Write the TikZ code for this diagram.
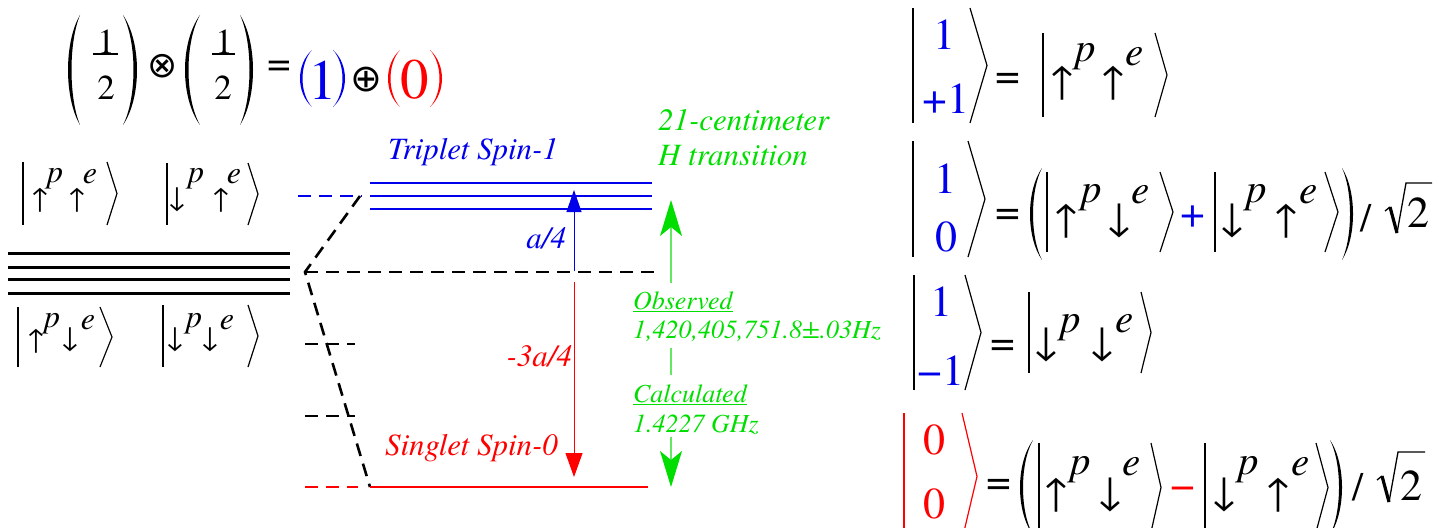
\documentclass[tikz,border=0pt]{standalone}
\usepackage{fontspec}
\IfFontExistsTF{texgyretermes-regular.otf}
 {\setmainfont{texgyretermes}[Extension=.otf,UprightFont=*-regular,ItalicFont=*-italic,BoldFont=*-bold]}
 {\setmainfont{Liberation Serif}}
\newfontfamily\djv{DejaVu Sans}
\usetikzlibrary{arrows.meta}
\definecolor{grn}{RGB}{0,222,0}
\definecolor{grnl}{RGB}{100,232,100}
\definecolor{blu}{RGB}{0,0,235}
\definecolor{rd}{RGB}{255,0,0}
\newcommand\fs[1]{\fontsize{#1}{#1}\selectfont}
% arrow glyph sized to a given total height: {glyph}{fallback width}{height}
\newcommand\arw[3]{\iffontchar\font`#1 \resizebox*{!}{#3}{#1}\else\resizebox*{#2}{#3}{\djv #1}\fi}
\newcommand\sA[1]{\arw{#1}{10pt}{24pt}}
\newcommand\bA[1]{\arw{#1}{15pt}{34pt}}
\tikzset{
  t/.style={inner sep=0pt, outer sep=0pt},
  ketline/.style={line width=1.2pt, line join=miter, miter limit=30},
  blvl/.style={line width=2.6pt, blu},
  klvl/.style={line width=3pt},
  dsh/.style={line width=2.6pt, dash pattern=on 13pt off 8pt},
  sm/.style={t, font=\fs{32}\itshape},
  smA/.style={t, font=\fs{32}},
  bg/.style={t, font=\fs{41}\itshape},
  bgA/.style={t, font=\fs{40}},
  num/.style={t, font=\fs{44}},
  lab/.style={t, font=\fs{31}\itshape, anchor=base west},
  glab/.style={t, font=\fs{26}\itshape, anchor=base west, text=grn},
}
% ket: [colour]{bar x}{top}{bottom}{angle x}{tip x}
\newcommand\ketl[6][black]{%
  \draw[ketline,#1] (#2,#3) -- (#2,#4);
  \draw[ketline,#1] (#5,#3) -- (#6,{(#3+#4)/2}) -- (#5,#4);}
% paren: [colour]{extreme x}{end x}{top}{bottom}{signed thickness}
\newcommand\parn[6][black]{%
  \fill[#1] (#3,#4) .. controls ({(4*#2-#3)/3},{#4+0.25*(#5-#4)}) and ({(4*#2-#3)/3},{#5-0.25*(#5-#4)}) .. (#3,#5)
    .. controls ({(4*(#2+#6)-#3)/3},{#5-0.25*(#5-#4)}) and ({(4*(#2+#6)-#3)/3},{#4+0.25*(#5-#4)}) .. (#3,#4) -- cycle;}
% radical: {x}{top}{bottom}{end x}
\newcommand\radic[4]{%
  \draw[line width=1.3pt, line join=miter] (#1,{(#2+#3)/2+3}) -- ({#1+5},{(#2+#3)/2-1});
  \draw[line width=3.2pt] ({#1+5},{(#2+#3)/2-1}) -- ({#1+12},#3);
  \draw[line width=1.3pt, line join=miter] ({#1+12},#3) -- ({#1+21},#2) -- (#4,#2);}
\begin{document}
\begin{tikzpicture}[x=1pt,y=-1pt]
\useasboundingbox (0,0) rectangle (1439,527);
% ---------------- top formula
\parn{68}{80}{15}{125}{3.5}
\node[t,font=\fs{35}] (f1n) at (106,42) {1};
\draw[line width=1.5pt] (93,54) -- (118,54);
\node[t,font=\fs{35}] (f1d) at (106,88) {2};
\parn{137}{123}{15}{125}{-3.5}
\node[t,font=\fs{36}\djv] (otm) at (163,66) {⊗};
\parn{185}{200}{15}{125}{3.5}
\node[t,font=\fs{35}] (f2n) at (224,42) {1};
\draw[line width=1.5pt] (212,54) -- (235,54);
\node[t,font=\fs{35}] (f2d) at (223,88) {2};
\parn{253}{240}{15}{125}{-3.5}
\node[t,font=\fs{42}] (eq0) at (279,69) {=};
\parn[blu]{300}{312}{50}{107}{2.5}
\node[t,font=\fs{57},text=blu] (one) at (323,80) {1};
\parn[blu]{345}{333}{50}{107}{-2.5}
\node[t,font=\fs{38}\djv] (opl) at (366,80) {⊕};
\parn[rd]{388}{400}{50}{107}{2.5}
\node[t,font=\fs{57},text=rd] (zero) at (415,80) {0};
\parn[rd]{442}{430}{50}{107}{-2.5}
% ---------------- left kets
\ketl{23}{162}{225}{107}{117}
\node[smA] (la1) at (40,200) {\sA{↑}};
\node[sm] (lp1) at (55,179) {p};
\node[smA] (la2) at (77,200) {\sA{↑}};
\node[sm] (le1) at (90,177) {e};
\ketl{167}{163}{225}{248}{258}
\node[smA] (la3) at (177,200) {\sA{↓}};
\node[sm] (lp2) at (196,179) {p};
\node[smA] (la4) at (221,200) {\sA{↑}};
\node[sm] (le2) at (234,177) {e};
\foreach \yy in {253,267,279,293} \draw[klvl] (8,\yy) -- (290,\yy);
\ketl{18}{307}{367}{100}{112}
\node[smA] (la5) at (36,341) {\sA{↑}};
\node[sm] (lp3) at (52,324) {p};
\node[smA] (la6) at (70,340) {\sA{↓}};
\node[sm] (le3) at (88,323) {e};
\ketl{163}{305}{367}{248}{258}
\node[smA] (la7) at (175,340) {\sA{↓}};
\node[sm] (lp4) at (194,324) {p};
\node[smA] (la8) at (210,340) {\sA{↓}};
\node[sm] (le4) at (227,323) {e};
% ---------------- levels
\draw[blvl] (370,183) -- (652,183);
\draw[blvl] (370,196) -- (652,196);
\draw[blvl] (370,209) -- (652,209);
\draw[dsh,blu] (298,196) -- (362,196);
\draw[dsh] (360,196) -- (305,272) -- (370,487);
\draw[dsh] (305,272) -- (658,272);
\draw[dsh] (305,344) -- (355,344);
\draw[dsh] (305,416) -- (355,416);
\draw[dsh,rd] (305,487) -- (358,487);
\draw[line width=2.6pt,rd] (370,487) -- (648,487);
\coordinate (bA0) at (574,271);
\coordinate (bA1) at (574,190);
\draw[blu,line width=1pt,-{Triangle[length=22pt,width=15pt]}] (bA0) -- (bA1);
\coordinate (rA0) at (574,282);
\coordinate (rA1) at (574,477);
\draw[rd,line width=1pt,-{Triangle[length=24pt,width=17pt]}] (rA0) -- (rA1);
\node[lab,text=blu] (trip) at (388,159) {Triplet Spin-1};
\node[lab,text=rd] (sing) at (385,455) {Singlet Spin-0};
\node[t,font=\fs{31}\itshape,text=blu,anchor=base east] (aq) at (566,248) {a/4};
\node[t,font=\fs{31}\itshape,text=rd,anchor=base east] (maq) at (572,366) {-3a/4};
% ---------------- green
\node[lab,text=grn] (g21) at (658,130) {21-centimeter};
\node[lab,text=grn] (gH) at (658,165) {H transition};
\coordinate (gu0) at (671,283);
\coordinate (gu1) at (671,200);
\draw[grnl,line width=1.5pt,-{Stealth[length=36pt,width=22pt,inset=9pt,color=grn]}] (gu0) -- (gu1);
\node[glab] (obs) at (633,309) {\underline{Observed}};
\node[glab] (obsv) at (633,338) {1,420,405,751.8±.03Hz};
\coordinate (gm0) at (671,348);
\coordinate (gm1) at (671,375);
\draw[grnl,line width=1.5pt] (gm0) -- (gm1);
\node[glab] (calc) at (633,402) {\underline{Calculated}};
\node[glab] (calcv) at (633,432) {1.4227 GHz};
\coordinate (gd0) at (671,437);
\coordinate (gd1) at (671,487);
\draw[grnl,line width=1.5pt,-{Stealth[length=36pt,width=22pt,inset=9pt,color=grn]}] (gd0) -- (gd1);
% ---------------- right: row 1
\ketl{913}{8}{123}{970}{987}
\node[num,text=blu] (r1a) at (944,35) {1};
\node[num,text=blu] (r1b) at (946,99) {+1};
\node[num] (r1eq) at (1008,81) {=};
\ketl{1043}{33}{117}{1155}{1167}
\node[bgA] (r1u1) at (1062,83) {\bA{↑}};
\node[bg] (r1p) at (1086,57) {p};
\node[bgA] (r1u2) at (1113,83) {\bA{↑}};
\node[bg] (r1e) at (1135,57) {e};
% row 2
\ketl{913}{141}{257}{968}{985}
\node[num,text=blu] (r2a) at (945,179) {1};
\node[num,text=blu] (r2b) at (946,237) {0};
\node[num] (r2eq) at (1008,217) {=};
\parn{1030}{1042}{168}{260}{3}
\ketl{1047}{172}{252}{1160}{1173}
\node[bgA] (r2u1) at (1066,221) {\bA{↑}};
\node[bg] (r2p1) at (1092,198) {p};
\node[bgA] (r2d1) at (1119,221) {\bA{↓}};
\node[bg] (r2e1) at (1141,195) {e};
\node[num,text=blu] (r2pl) at (1193,217) {+};
\ketl{1215}{172}{252}{1325}{1338}
\node[bgA] (r2d2) at (1232,221) {\bA{↓}};
\node[bg] (r2p2) at (1257,198) {p};
\node[bgA] (r2u2) at (1286,221) {\bA{↑}};
\node[bg] (r2e2) at (1309,195) {e};
\parn{1353}{1342}{168}{260}{-3}
\node[t,font=\fs{40}] (r2sl) at (1366,218) {/};
\radic{1385}{183}{233}{1432}
\node[t,font=\fs{44}] (r2two) at (1418,213) {2};
% row 3
\ketl{914}{275}{390}{965}{981}
\node[num,text=blu] (r3a) at (941,302) {1};
\node[num,text=blu] (r3b) at (941,371) {−1};
\node[num] (r3eq) at (1003,348) {=};
\ketl{1029}{292}{373}{1141}{1151}
\node[bgA] (r3d1) at (1046,345) {\bA{↓}};
\node[bg] (r3p) at (1071,328) {p};
\node[bgA] (r3d2) at (1102,345) {\bA{↓}};
\node[bg] (r3e) at (1125,324) {e};
% row 4
\ketl[rd]{904}{413}{540}{962}{977}
\node[num,text=rd] (r4a) at (934,440) {0};
\node[num,text=rd] (r4b) at (934,504) {0};
\node[num] (r4eq) at (999,487) {=};
\parn{1020}{1033}{440}{535}{3}
\ketl{1039}{443}{532}{1151}{1161}
\node[bgA] (r4u1) at (1056,495) {\bA{↑}};
\node[bg] (r4p1) at (1081,470) {p};
\node[bgA] (r4d1) at (1110,495) {\bA{↓}};
\node[bg] (r4e1) at (1132,467) {e};
\node[num,text=rd] (r4mi) at (1183,493) {−};
\ketl{1205}{443}{532}{1316}{1328}
\node[bgA] (r4d2) at (1224,495) {\bA{↓}};
\node[bg] (r4p2) at (1249,470) {p};
\node[bgA] (r4u2) at (1278,495) {\bA{↑}};
\node[bg] (r4e2) at (1301,467) {e};
\parn{1342}{1330}{440}{535}{-3}
\node[t,font=\fs{40}] (r4sl) at (1358,487) {/};
\radic{1377}{452}{502}{1425}
\node[t,font=\fs{44}] (r4two) at (1411,486) {2};
\end{tikzpicture}
\end{document}
